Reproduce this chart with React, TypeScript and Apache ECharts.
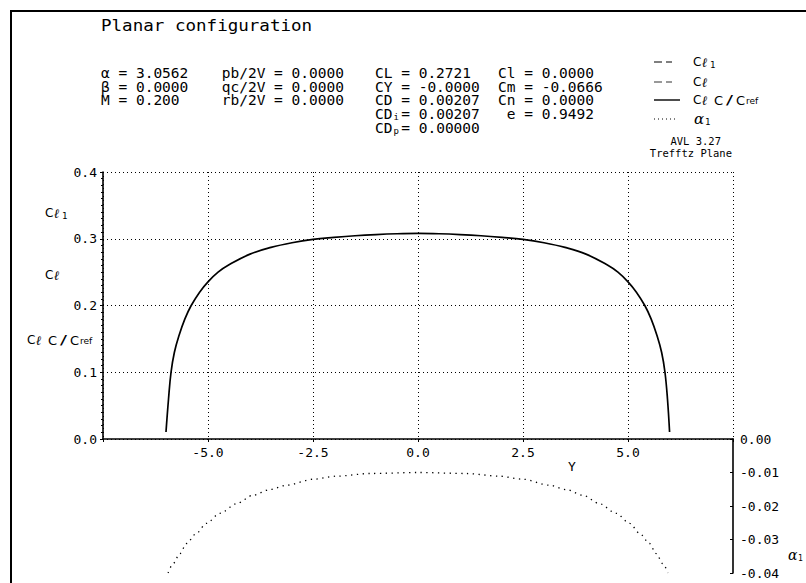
import React, { useEffect, useRef } from "react";
import * as echarts from "echarts";

// Spanwise stations (Y) and lift-coefficient distribution
const spanY = [-6.0, -5.94, -5.88, -5.8, -5.69, -5.55, -5.4, -5.2, -5.0, -4.76, -4.5, -4.0, -3.5, -3.0, -2.5, -2.0, -1.5, -1.0, -0.5, 0.0,
  0.5, 1.0, 1.5, 2.0, 2.5, 3.0, 3.5, 4.0, 4.5, 4.76, 5.0, 5.2, 5.4, 5.55, 5.69, 5.8, 5.88, 5.94, 5.99];
const clValues = [0.0105, 0.06, 0.1, 0.13, 0.155, 0.18, 0.2, 0.22, 0.2355, 0.25, 0.261, 0.277, 0.287, 0.294, 0.299, 0.302, 0.3045, 0.3063, 0.3075, 0.308,
  0.3075, 0.3063, 0.3045, 0.302, 0.299, 0.294, 0.287, 0.277, 0.261, 0.25, 0.2355, 0.22, 0.2, 0.18, 0.155, 0.13, 0.1, 0.06, 0.0105];

// Induced angle distribution
const aiY = [-5.95, -5.83, -5.67, -5.51, -5.28, -5.04, -4.72, -4.32, -3.93, -3.53, -3.13, -2.49, -1.94, -1.15, 0.0,
  1.15, 1.94, 2.49, 3.13, 3.53, 3.93, 4.32, 4.72, 5.04, 5.28, 5.51, 5.67, 5.83, 5.95];
const aiValues = [-0.04, -0.0372, -0.0342, -0.0312, -0.0282, -0.0252, -0.0222, -0.0193, -0.0168, -0.0151, -0.0138, -0.012, -0.0111, -0.0103, -0.01,
  -0.0103, -0.0111, -0.012, -0.0138, -0.0151, -0.0168, -0.0193, -0.0222, -0.0252, -0.0282, -0.0312, -0.0342, -0.0372, -0.04];

const xTicks = { min: -7.5, max: 7.5, interval: 2.5 };
const clTicks = { min: 0, max: 0.4, interval: 0.1 };
const aiTicks = { min: -0.04, max: 0, interval: 0.01 };

const col1 = ["α = 3.0562", "β = 0.0000", "M = 0.200"];
const col2 = ["pb/2V = 0.0000", "qc/2V = 0.0000", "rb/2V = 0.0000"];
const col3 = ["CL = 0.2721", "CY = -0.0000", "CD = 0.00207"];
const col3sub = [{ base: "CD", sub: "i", rest: "= 0.00207" }, { base: "CD", sub: "p", rest: "= 0.00000" }];
const col4 = ["Cl = 0.0000", "Cm = -0.0666", "Cn = 0.0000", " e = 0.9492"];

const MONO = "DejaVu Sans Mono";

function txt(x: number, y: number, text: string, size: number, extra: any = {}, scaleX = 1) {
  return {
    type: "text",
    x,
    y,
    scaleX,
    silent: true,
    style: {
      text,
      fontFamily: MONO,
      fontSize: size,
      fill: "#000",
      textAlign: "left",
      textVerticalAlign: "middle",
      ...extra,
    },
  };
}

export default function App() {
  const ref = useRef<HTMLDivElement>(null);
  useEffect(() => {
    document.body.style.margin = "0";
    const chart = echarts.init(ref.current!, null, { renderer: "svg" });
    const rows = [73, 87, 100.5, 114, 128];
    const PS = 13.2; // parameter font size
    const SX = 1.1; // horizontal stretch (wide plotter font)
    const cw = PS * 0.602 * SX;
    const g: any[] = [];
    g.push({ type: "rect", shape: { x: 11, y: 11, width: 820, height: 640 }, style: { fill: "none", stroke: "#000", lineWidth: 2 }, silent: true });
    g.push(txt(101, 26, "Planar configuration", 15, {}, 1.17));
    col1.forEach((s, i) => g.push(txt(101, rows[i], s, PS, {}, SX)));
    col2.forEach((s, i) => g.push(txt(221.7, rows[i], s, PS, {}, SX)));
    col3.forEach((s, i) => g.push(txt(375, rows[i], s, PS, {}, SX)));
    col3sub.forEach((c, i) => {
      const y = rows[3 + i];
      g.push(txt(375, y, c.base, PS, {}, SX));
      g.push(txt(375 + 2 * cw + 1, y + 3, c.sub, 9));
      g.push(txt(375 + 3 * cw, y, c.rest, PS, {}, SX));
    });
    col4.forEach((s, i) => g.push(txt(498, rows[i], s, PS, {}, SX)));

    // legend
    const lx0 = 654;
    const ly = [62, 82, 100, 119];
    g.push({ type: "line", shape: { x1: lx0, y1: ly[0], x2: 672, y2: ly[0] }, style: { stroke: "#000", lineWidth: 1.2, lineDash: [8, 4] }, silent: true });
    g.push({ type: "line", shape: { x1: lx0, y1: ly[1], x2: 672, y2: ly[1] }, style: { stroke: "#333", lineWidth: 1.2, lineDash: [8, 4] }, silent: true });
    g.push({ type: "line", shape: { x1: lx0, y1: ly[2], x2: 680, y2: ly[2] }, style: { stroke: "#000", lineWidth: 1.4 }, silent: true });
    g.push({ type: "line", shape: { x1: lx0, y1: ly[3], x2: 677, y2: ly[3] }, style: { stroke: "#000", lineWidth: 1, lineDash: [1, 3] }, silent: true });
    const clLabel = (x: number, y: number, sub: string | null, cref: boolean) => {
      g.push(txt(x, y, "C", 12, { fontFamily: "DejaVu Sans" }));
      g.push(txt(x + 9, y, "ℓ", 13, { fontFamily: "DejaVu Serif", fontStyle: "italic", fontWeight: "bold" }));
      if (sub) g.push(txt(x + 17, y + 3, sub, 9));
      if (cref) {
        g.push(txt(x + 21, y, "C", 13, { fontFamily: "DejaVu Sans" }));
        g.push(txt(x + 33, y, "/", 13, { fontFamily: "DejaVu Sans" }, 1.6));
        g.push(txt(x + 43, y, "C", 13, { fontFamily: "DejaVu Sans" }));
        g.push(txt(x + 53, y + 1, "ref", 9, { fontFamily: "DejaVu Sans" }));
      }
    };
    clLabel(693, ly[0], "1", false);
    clLabel(693, ly[1], null, false);
    clLabel(693, ly[2], null, true);
    g.push(txt(694, ly[3], "α", 15, { fontFamily: "DejaVu Serif", fontStyle: "italic" }));
    g.push(txt(705, ly[3] + 3, "1", 9));
    g.push(txt(721, 141, "AVL 3.27", 10, { textAlign: "right" }, 1.05));
    g.push(txt(732, 153, "Trefftz Plane", 10, { textAlign: "right" }, 1.05));

    // axis labels
    clLabel(45, 213, "1", false);
    clLabel(45, 275, null, false);
    clLabel(27, 340, null, true);
    g.push(txt(572, 466, "Y", 13, { textAlign: "center" }));
    g.push(txt(788, 555, "α", 14, { fontFamily: "DejaVu Serif", fontStyle: "italic" }));
    g.push(txt(798, 558, "1", 8));

    const clData = spanY.map((y, i) => [y, clValues[i]]);
    const aiData = aiY.map((y, i) => [y, aiValues[i]]);
    const labelStyle = { color: "#000", fontFamily: MONO, fontSize: 13 };

    chart.setOption({
      animation: false,
      backgroundColor: "#fff",
      grid: [
        { left: 103, top: 172, width: 630, height: 267 },
        { left: 103, top: 439, width: 630, height: 134 },
      ],
      xAxis: [
        {
          gridIndex: 0, type: "value", ...xTicks,
          axisLine: { show: true, onZero: false, lineStyle: { color: "#000", width: 1.6 } },
          axisTick: { show: true, length: 3, lineStyle: { color: "#000" } },
          axisLabel: { ...labelStyle, margin: 7, formatter: (v: number) => (Math.abs(v) === 7.5 ? "" : v.toFixed(1)) },
          splitLine: { show: true, lineStyle: { color: "#000", type: [1, 3], width: 1 } },
        },
        { gridIndex: 1, type: "value", ...xTicks, show: false },
      ],
      yAxis: [
        {
          gridIndex: 0, type: "value", ...clTicks,
          axisLine: { show: true, onZero: false, lineStyle: { color: "#000", width: 1.6 } },
          axisTick: { show: true, length: 3, lineStyle: { color: "#000" } },
          minorTick: { show: true, splitNumber: 10, length: 2, lineStyle: { color: "#000" } },
          axisLabel: { ...labelStyle, margin: 6, formatter: (v: number) => v.toFixed(1) },
          splitLine: { show: true, lineStyle: { color: "#000", type: [1, 3], width: 1 } },
        },
        {
          gridIndex: 1, type: "value", position: "right", ...aiTicks,
          axisLine: { show: true, onZero: false, lineStyle: { color: "#000", width: 1.6 } },
          axisTick: { show: true, inside: true, length: 3, lineStyle: { color: "#000" } },
          axisLabel: { ...labelStyle, margin: 7, formatter: (v: number) => (v === 0 ? "0.00" : v.toFixed(2)) },
          splitLine: { show: false },
        },
      ],
      graphic: g,
      series: [
        { name: "Cl c/cref", type: "line", xAxisIndex: 0, yAxisIndex: 0, data: clData, showSymbol: false, smooth: 0.4, lineStyle: { color: "#000", width: 1.7 }, silent: true, z: 3 },
        { name: "ai", type: "line", xAxisIndex: 1, yAxisIndex: 1, data: aiData, showSymbol: false, smooth: 0.3, smoothMonotone: "x", lineStyle: { color: "#000", width: 1.3, type: [1.3, 4.5] }, silent: true, z: 3 },
      ],
    });
    return () => chart.dispose();
  }, []);
  return <div ref={ref} style={{ width: 806, height: 583 }} />;
}
